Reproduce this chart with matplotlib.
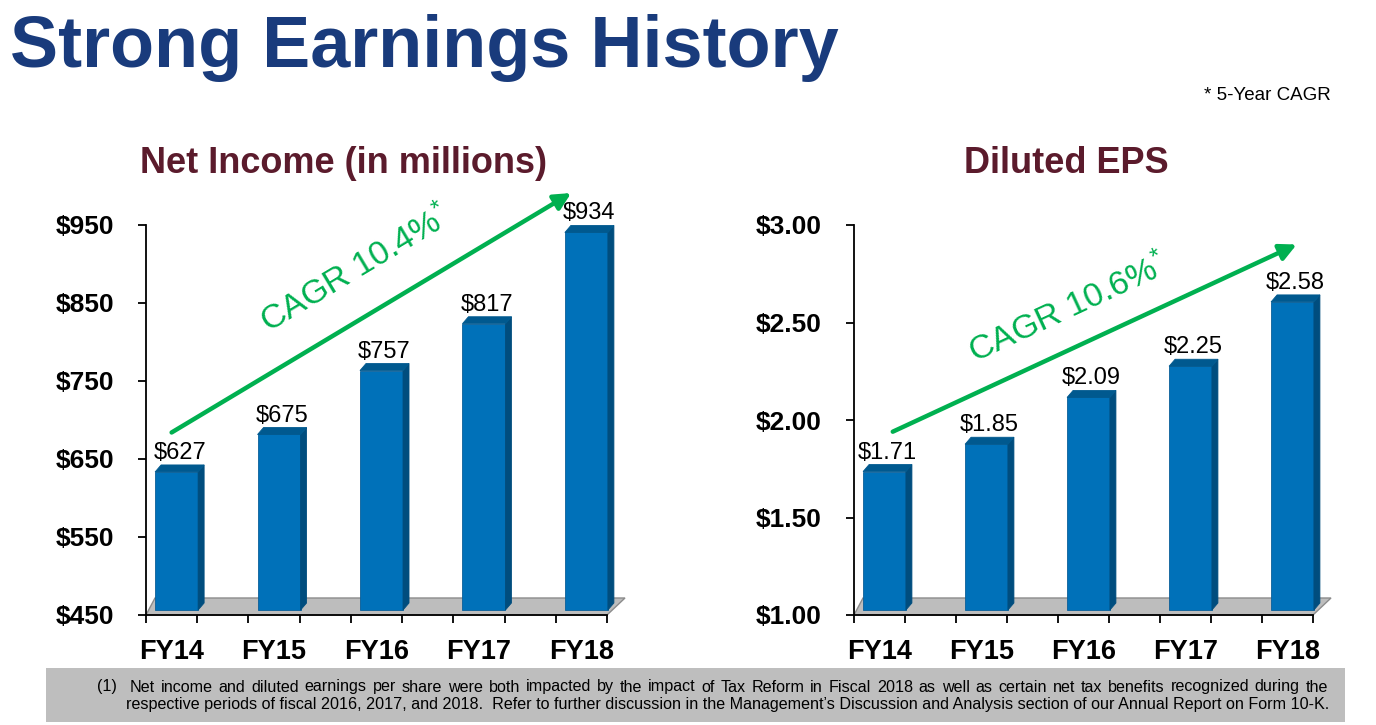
import matplotlib
matplotlib.use("Agg")
import matplotlib.pyplot as plt
from matplotlib.patches import Polygon, Rectangle
import numpy as np

plt.rcParams['font.family'] = ['Liberation Sans', 'DejaVu Sans']
plt.rcParams['mathtext.fontset'] = 'custom'
plt.rcParams['mathtext.rm'] = 'Liberation Sans'
plt.rcParams['mathtext.it'] = 'Liberation Sans'

# ---------------- data ----------------
categories = ["FY14", "FY15", "FY16", "FY17", "FY18"]
net_income = [627, 675, 757, 817, 934]
net_income_labels = ["$627", "$675", "$757", "$817", "$934"]
eps = [1.71, 1.85, 2.09, 2.25, 2.58]
eps_labels = ["$1.71", "$1.85", "$2.09", "$2.25", "$2.58"]
ni_ticks = [450, 550, 650, 750, 850, 950]
ni_ticklabels = ["$450", "$550", "$650", "$750", "$850", "$950"]
eps_ticks = [1.0, 1.5, 2.0, 2.5, 3.0]
eps_ticklabels = ["$1.00", "$1.50", "$2.00", "$2.50", "$3.00"]
ni_cagr = "CAGR 10.4%"
eps_cagr = "CAGR 10.6%"

title = "Strong Earnings History"
footnote_num = "(1)"
footnote1 = ("Net income and diluted earnings per share were both impacted by the impact of Tax Reform in "
             "Fiscal 2018 as well as certain net tax benefits recognized during the")
footnote2 = ("respective periods of fiscal 2016, 2017, and 2018.  Refer to further discussion in the "
             "Management\u2019s Discussion and Analysis section of our Annual Report on Form 10-K.")

W, H = 1376, 725
fig = plt.figure(figsize=(W / 100, H / 100), dpi=100)
fig.patch.set_facecolor("white")

FRONT = "#0071B9"
SIDE = "#004D7E"
TOP = "#00598F"
GREEN = "#00B050"
NAVY = "#193B7C"
MAROON = "#5B1B2C"


def fig_rect(x0, y0, x1, y1):
    return [x0 / W, 1 - y1 / H, (x1 - x0) / W, (y1 - y0) / H]


def make_panel(rect, values, labels, ticks, ticklabels, cagr_text, arrow_from, arrow_to, text_pos):
    ax = fig.add_axes(rect)
    x = np.arange(len(categories))
    ax.set_xlim(-0.25, len(categories) - 0.75)
    ax.set_ylim(ticks[0], ticks[-1])
    for s in ["top", "right"]:
        ax.spines[s].set_visible(False)
    ax.spines["left"].set_linewidth(1.3)
    ax.spines["bottom"].set_linewidth(1.3)
    ax.set_facecolor("none")
    ax.set_yticks(ticks)
    ax.set_yticklabels(ticklabels, fontsize=19, fontweight="bold")
    ax.tick_params(axis="y", direction="out", length=6, width=1.3, pad=17)
    ax.set_xticks(x)
    ax.set_xticklabels(categories, fontsize=19.5, fontweight="bold")
    ax.tick_params(axis="x", which="major", length=0, pad=17)
    ax.set_xticks(np.arange(-0.25, len(categories) - 0.7, 0.5), minor=True)
    ax.tick_params(axis="x", which="minor", direction="out", length=6, width=1.3)

    fig.canvas.draw()
    td = ax.transData
    inv = td.inverted()

    def to_data(pts):
        return inv.transform(np.array(pts, dtype=float))

    base = ticks[0]
    # floor
    fl = td.transform((ax.get_xlim()[0], base))
    fr = td.transform((ax.get_xlim()[1], base))
    floor = [fl, fr, fr + [18, 17], fl + [9, 17]]
    ax.add_patch(Polygon(to_data(floor), closed=True, facecolor="#BDBDBD",
                         edgecolor="#8C8C8C", lw=1.0, clip_on=False, zorder=1))

    half_w = 0.21
    dx, dy = 6, 7
    shift = np.array([5, 5])
    for xi, v, lab in zip(x, values, labels):
        bl = td.transform((xi - half_w, base)) + shift
        br = td.transform((xi + half_w, base)) + shift
        tl = td.transform((xi - half_w, v)) + shift
        tr = td.transform((xi + half_w, v)) + shift
        d = np.array([dx, dy])
        front = [bl, br, tr, tl]
        side = [br, br + d, tr + d, tr]
        top = [tl, tr, tr + d, tl + d]
        ax.add_patch(Polygon(to_data(front), closed=True, facecolor=FRONT, edgecolor="#0A5F99",
                             lw=0.6, clip_on=False, zorder=3))
        ax.add_patch(Polygon(to_data(side), closed=True, facecolor=SIDE, edgecolor=SIDE,
                             lw=0.6, clip_on=False, zorder=3))
        ax.add_patch(Polygon(to_data(top), closed=True, facecolor=TOP, edgecolor=TOP,
                             lw=0.6, clip_on=False, zorder=3))
        ax.annotate(lab, xy=(xi, v), xytext=(8, 13), textcoords="offset pixels",
                    ha="center", va="bottom", fontsize=17, color="black",
                    annotation_clip=False, zorder=5)

    # arrow
    ax.annotate("", xy=arrow_to, xytext=arrow_from, xycoords="data", textcoords="data",
                annotation_clip=False, zorder=6,
                arrowprops=dict(arrowstyle="-|>,head_length=1.0,head_width=0.5",
                                color=GREEN, lw=3.2, shrinkA=0, shrinkB=0))
    p0 = td.transform(arrow_from)
    p1 = td.transform(arrow_to)
    ang = np.degrees(np.arctan2(p1[1] - p0[1], p1[0] - p0[0]))
    ax.text(text_pos[0], text_pos[1], cagr_text + r"$^{*}$", rotation=ang, rotation_mode="anchor",
            ha="center", va="center", fontsize=24.5, color=GREEN, zorder=6, clip_on=False)
    return ax


axL = make_panel(fig_rect(146, 225, 607, 615), net_income, net_income_labels, ni_ticks, ni_ticklabels,
                 ni_cagr, (0.0, 684), (3.90, 991), (1.80, 893))
axR = make_panel(fig_rect(854, 225, 1313, 615), eps, eps_labels, eps_ticks, eps_ticklabels,
                 eps_cagr, (0.13, 1.94), (4.09, 2.90), (1.85, 2.57))

# titles
fig.text(10 / W, 1 - 67 / H, title, fontsize=51.8, fontweight="bold", color=NAVY,
         ha="left", va="baseline")
fig.text(344 / W, 1 - 173 / H, "Net Income (in millions)", fontsize=26, fontweight="bold",
         color=MAROON, ha="center", va="baseline")
fig.text(1066 / W, 1 - 173 / H, "Diluted EPS", fontsize=26, fontweight="bold",
         color=MAROON, ha="center", va="baseline")
fig.text(1331 / W, 1 - 95 / H, "* 5-Year CAGR", fontsize=13.5, color="black",
         ha="right", va="center")

# footnote
fig.patches.append(Rectangle((46 / W, 1 - 722 / H), (1345 - 46) / W, (722 - 668) / H,
                             transform=fig.transFigure, facecolor="#BEBEBE", edgecolor="none",
                             zorder=0))
FN_SIZE = 11.6
renderer = fig.canvas.get_renderer()


def justified_line(text, x0, x1, yc):
    words = [w for w in text.split(" ") if w]
    objs = []
    widths = []
    for w in words:
        t = fig.text(0, 1 - yc / H, w, fontsize=FN_SIZE, ha="left", va="center", color="black")
        widths.append(t.get_window_extent(renderer).width)
        objs.append(t)
    gap = (x1 - x0 - sum(widths)) / (len(words) - 1)
    xc = x0
    for t, wd in zip(objs, widths):
        t.set_x(xc / W)
        xc += wd + gap


fig.text(97 / W, 1 - 687 / H, footnote_num, fontsize=FN_SIZE, ha="left", va="center", color="black")
justified_line(footnote1, 130, 1328, 687)
fig.text(126 / W, 1 - 704 / H, footnote2, fontsize=FN_SIZE, ha="left", va="center", color="black")

fig.savefig("out.png", dpi=100)
